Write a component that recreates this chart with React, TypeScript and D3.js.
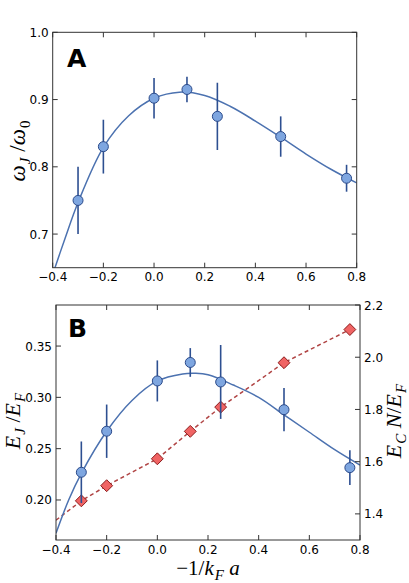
import React from 'react'
import * as d3 from 'd3'

// shared x positions (-1/kFa)
const xTicks = [-0.4, -0.2, 0.0, 0.2, 0.4, 0.6, 0.8]
const kfa = [-0.3, -0.2, 0.0, 0.13, 0.25, 0.5, 0.76]

// panel A: omega_J / omega_0
const omegaTicks = [0.7, 0.8, 0.9, 1.0]
const omegaJ = [0.75, 0.83, 0.902, 0.915, 0.875, 0.845, 0.783]
const omegaErr = [0.05, 0.04, 0.03, 0.019, 0.05, 0.03, 0.02]
const fitAX = [-0.4, -0.35, -0.3, -0.2, -0.1, 0.0, 0.1, 0.2, 0.3, 0.4, 0.5, 0.6, 0.7, 0.8]
const fitAY = [0.64, 0.695, 0.747, 0.829, 0.876, 0.902, 0.911, 0.906, 0.89, 0.868, 0.844, 0.819, 0.796, 0.776]

// panel B: E_J / E_F (left) and E_C N / E_F (right)
const ejTicks = [0.2, 0.25, 0.3, 0.35]
const ecTicks = [1.4, 1.6, 1.8, 2.0, 2.2]
const ejEf = [0.227, 0.267, 0.316, 0.334, 0.315, 0.288, 0.2315]
const ejErr = [0.03, 0.026, 0.02, 0.014, 0.036, 0.021, 0.017]
const fitBX = [-0.4, -0.35, -0.3, -0.2, -0.1, 0.0, 0.1, 0.15, 0.2, 0.3, 0.4, 0.5, 0.6, 0.7, 0.8]
const fitBY = [0.1675, 0.2, 0.226, 0.267, 0.297, 0.316, 0.3228, 0.3234, 0.322, 0.312, 0.3, 0.283, 0.266, 0.249, 0.234]
const ecN = [1.45, 1.508, 1.611, 1.716, 1.809, 1.979, 2.106]
const dashX = [-0.4, -0.3, -0.2, 0.0, 0.13, 0.25, 0.5, 0.76]
const dashY = [1.376, 1.45, 1.508, 1.611, 1.716, 1.809, 1.979, 2.106]

const W = 409
const H = 583
const frame = '#333'
const lineBlue = '#4c72b0'
const errBlue = '#2d4f91'
const fillBlue = '#7ea6e0'
const edgeBlue = '#2b4a8a'
const fillRed = '#f06464'
const edgeRed = '#8b1c1c'
const dashRed = '#b04444'
const tickFont = 'DejaVu Sans, sans-serif'
const mathFont = 'Liberation Serif, serif'
const TL = 5

// subscript then return to the baseline
const Sub = ({ children, it = true }: { children: string; it?: boolean }) => (
  <>
    <tspan fontSize="15" dy="5" dx="1" fontStyle={it ? 'italic' : 'normal'}>{children}</tspan>
    <tspan dy="-5"> </tspan>
  </>
)

function Frame({ l, r, t, b }: { l: number; r: number; t: number; b: number }) {
  return <rect x={l} y={t} width={r - l} height={b - t} fill="none" stroke={frame} strokeWidth={1} />
}

function XAxis({ x, t, b }: { x: d3.ScaleLinear<number, number>; t: number; b: number }) {
  return (
    <g>
      {xTicks.map(v => (
        <g key={v}>
          <line x1={x(v)} x2={x(v)} y1={b} y2={b - TL} stroke={frame} />
          <line x1={x(v)} x2={x(v)} y1={t} y2={t + TL} stroke={frame} />
          <text x={x(v)} y={b + 13.5} textAnchor="middle" fontFamily={tickFont} fontSize={12} fill="#000">
            {d3.format('.1f')(v)}
          </text>
        </g>
      ))}
    </g>
  )
}

function PanelA() {
  const l = 52.7, r = 356.7, t = 32.3, b = 267.7
  const x = d3.scaleLinear().domain([-0.4, 0.8]).range([l, r])
  const y = d3.scaleLinear().domain([0.65, 1.0]).range([b, t])
  const line = d3.line<number>().x((d, i) => x(fitAX[i])).y(d => y(d)).curve(d3.curveCatmullRom)
  return (
    <g>
      <defs>
        <clipPath id="clipA"><rect x={l} y={t} width={r - l} height={b - t} /></clipPath>
      </defs>
      <g clipPath="url(#clipA)">
        <path d={line(fitAY) || ''} fill="none" stroke={lineBlue} strokeWidth={1.5} />
      </g>
      {kfa.map((v, i) => (
        <line key={'e' + i} x1={x(v)} x2={x(v)} y1={y(omegaJ[i] - omegaErr[i])} y2={y(omegaJ[i] + omegaErr[i])}
          stroke={errBlue} strokeWidth={1.6} />
      ))}
      {kfa.map((v, i) => (
        <circle key={'c' + i} cx={x(v)} cy={y(omegaJ[i])} r={5} fill={fillBlue} stroke={edgeBlue} strokeWidth={1} />
      ))}
      <Frame l={l} r={r} t={t} b={b} />
      {omegaTicks.map(v => (
        <g key={v}>
          <line x1={l} x2={l + TL} y1={y(v)} y2={y(v)} stroke={frame} />
          <line x1={r} x2={r - TL} y1={y(v)} y2={y(v)} stroke={frame} />
          <text x={l - 4} y={y(v) + 4.5} textAnchor="end" fontFamily={tickFont} fontSize={12} fill="#000">
            {d3.format('.1f')(v)}
          </text>
        </g>
      ))}
      <XAxis x={x} t={t} b={b} />
      <text x={67} y={66.5} fontFamily="DejaVu Sans, sans-serif" fontWeight="bold" fontSize={25} fill="#000">A</text>
      <text transform="translate(25,151) rotate(-90)" textAnchor="middle" fontFamily={mathFont} fontSize={23} fill="#000">
        <tspan fontStyle="italic">ω</tspan><Sub>J</Sub><tspan>/</tspan><tspan fontStyle="italic">ω</tspan><Sub it={false}>0</Sub>
      </text>
    </g>
  )
}

function PanelB() {
  const l = 56, r = 360, t = 305, b = 540
  const x = d3.scaleLinear().domain([-0.4, 0.8]).range([l, r])
  const y = d3.scaleLinear().domain([0.161, 0.39]).range([b, t])
  const y2 = d3.scaleLinear().domain([1.3, 2.2]).range([b, t])
  const fit = d3.line<number>().x((d, i) => x(fitBX[i])).y(d => y(d)).curve(d3.curveCatmullRom)
  const dash = d3.line<number>().x((d, i) => x(dashX[i])).y(d => y2(d))
  const diamond = d3.symbol().type(d3.symbolDiamond2).size(90)
  return (
    <g>
      <defs>
        <clipPath id="clipB"><rect x={l} y={t} width={r - l} height={b - t} /></clipPath>
      </defs>
      <g clipPath="url(#clipB)">
        <path d={dash(dashY) || ''} fill="none" stroke={dashRed} strokeWidth={1.5} strokeDasharray="4,3" />
        <path d={fit(fitBY) || ''} fill="none" stroke={lineBlue} strokeWidth={1.5} />
      </g>
      {kfa.map((v, i) => (
        <path key={'d' + i} d={diamond() || ''} transform={`translate(${x(v)},${y2(ecN[i])})`}
          fill={fillRed} stroke={edgeRed} strokeWidth={1} />
      ))}
      {kfa.map((v, i) => (
        <line key={'e' + i} x1={x(v)} x2={x(v)} y1={y(ejEf[i] - ejErr[i])} y2={y(ejEf[i] + ejErr[i])}
          stroke={errBlue} strokeWidth={1.6} />
      ))}
      {kfa.map((v, i) => (
        <circle key={'c' + i} cx={x(v)} cy={y(ejEf[i])} r={5} fill={fillBlue} stroke={edgeBlue} strokeWidth={1} />
      ))}
      <Frame l={l} r={r} t={t} b={b} />
      {ejTicks.map(v => (
        <g key={v}>
          <line x1={l} x2={l + TL} y1={y(v)} y2={y(v)} stroke={frame} />
          <text x={l - 4} y={y(v) + 4.5} textAnchor="end" fontFamily={tickFont} fontSize={12} fill="#000">
            {d3.format('.2f')(v)}
          </text>
        </g>
      ))}
      {ecTicks.map(v => (
        <g key={v}>
          <line x1={r} x2={r - TL} y1={y2(v)} y2={y2(v)} stroke={frame} />
          <text x={r + 4} y={y2(v) + 4.5} textAnchor="start" fontFamily={tickFont} fontSize={12} fill="#000">
            {d3.format('.1f')(v)}
          </text>
        </g>
      ))}
      <XAxis x={x} t={t} b={b} />
      <text x={68} y={337} fontFamily="DejaVu Sans, sans-serif" fontWeight="bold" fontSize={25} fill="#000">B</text>
      <text transform="translate(20,421) rotate(-90)" textAnchor="middle" fontFamily={mathFont} fontSize={22} fill="#000">
        <tspan fontStyle="italic">E</tspan><Sub>J</Sub><tspan>/</tspan><tspan fontStyle="italic">E</tspan><Sub>F</Sub>
      </text>
      <text transform="translate(401,421) rotate(-90)" textAnchor="middle" fontFamily={mathFont} fontSize={22} fill="#000">
        <tspan fontStyle="italic">E</tspan><Sub>C</Sub><tspan fontStyle="italic">N</tspan><tspan>/</tspan>
        <tspan fontStyle="italic">E</tspan><Sub>F</Sub>
      </text>
      <text x={208} y={575} textAnchor="middle" fontFamily={mathFont} fontSize={21} fill="#000">
        <tspan>−1/</tspan><tspan fontStyle="italic">k</tspan><Sub>F</Sub><tspan fontStyle="italic">a</tspan>
      </text>
    </g>
  )
}

export default function App() {
  return (
    <svg width={W} height={H} style={{ position: 'absolute', left: 0, top: 0, background: '#fff' }}>
      <rect width={W} height={H} fill="#fff" />
      <PanelA />
      <PanelB />
    </svg>
  )
}
